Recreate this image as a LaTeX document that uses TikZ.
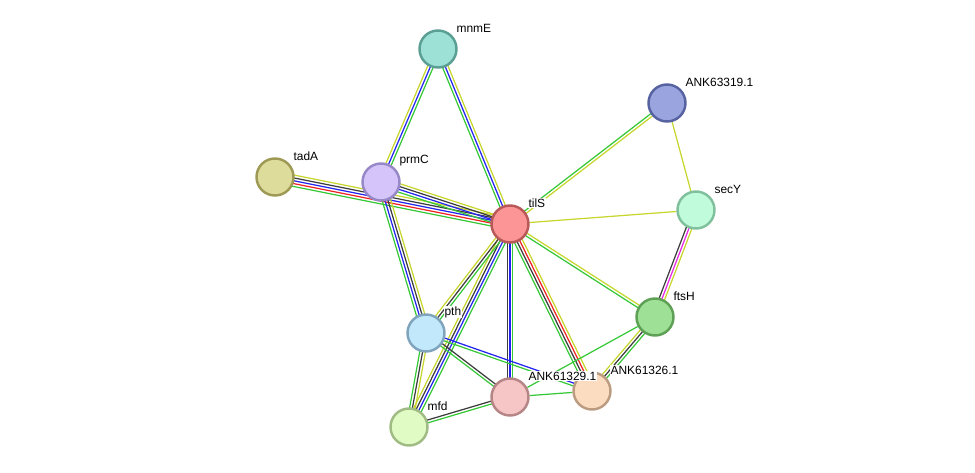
\documentclass[tikz,border=0pt]{standalone}
\usepackage{fontspec}
\setmainfont{Liberation Sans}
\usetikzlibrary{calc}
\definecolor{lnkgreen}{RGB}{55,200,55}
\definecolor{lnkyellow}{RGB}{198,214,45}
\definecolor{lnkblue}{RGB}{35,35,240}
\definecolor{lnkred}{RGB}{240,35,35}
\definecolor{lnkblack}{RGB}{60,60,60}
\definecolor{lnkmagenta}{RGB}{230,40,230}

\pgfdeclarelayer{edges}
\pgfsetlayers{edges,main}

% #1, #2 nodes, #3 number of strands, #4 strand colours
\newcommand{\strlink}[4]{%
  \foreach \col [count=\k] in {#4} {
    \pgfmathsetmacro{\off}{((#3+1)/2-\k)*1.6}
    \draw[lnk, \col] ($(#1)!\off pt!90:(#2)$) -- ($(#2)!\off pt!-90:(#1)$);
  }}

\begin{document}
\begin{tikzpicture}[x=0.02cm, y=-0.02cm,
  prot/.style={circle, line width=1.4pt, minimum size=0.74cm, inner sep=0pt},
  lbl/.style={anchor=west, xshift=0.35cm, yshift=0.42cm, inner sep=0.4pt, fill=white, font=\fontsize{6.8}{8}\selectfont},
  lnk/.style={line width=0.7pt}]
\useasboundingbox (0,0) rectangle (975,473);

\node[prot, draw={rgb,255:red,90;green,158;blue,148}, fill={rgb,255:red,156;green,224;blue,214}] (mnmE) at (438,49) {};
\node[prot, draw={rgb,255:red,87;green,99;blue,160}, fill={rgb,255:red,154;green,165;blue,224}] (ank319) at (667,103) {};
\node[prot, draw={rgb,255:red,158;green,154;blue,85}, fill={rgb,255:red,222;green,220;blue,154}] (tadA) at (275,177) {};
\node[prot, draw={rgb,255:red,151;green,136;blue,200}, fill={rgb,255:red,212;green,196;blue,250}] (prmC) at (381,182) {};
\node[prot, draw={rgb,255:red,184;green,88;blue,88}, fill={rgb,255:red,252;green,150;blue,150}] (tilS) at (510,224) {};
\node[prot, draw={rgb,255:red,128;green,192;blue,156}, fill={rgb,255:red,192;green,252;blue,220}] (secY) at (696,210) {};
\node[prot, draw={rgb,255:red,94;green,160;blue,86}, fill={rgb,255:red,158;green,224;blue,150}] (ftsH) at (655,317) {};
\node[prot, draw={rgb,255:red,128;green,164;blue,188}, fill={rgb,255:red,194;green,232;blue,252}] (pth) at (426,333) {};
\node[prot, draw={rgb,255:red,188;green,156;blue,128}, fill={rgb,255:red,252;green,220;blue,192}] (ank326) at (592,391) {};
\node[prot, draw={rgb,255:red,182;green,134;blue,134}, fill={rgb,255:red,246;green,198;blue,198}] (ank329) at (510,397) {};
\node[prot, draw={rgb,255:red,160;green,188;blue,132}, fill={rgb,255:red,224;green,252;blue,196}] (mfd) at (409,427) {};

% names
\node[lbl] (mnmEl) at (mnmE) {mnmE};
\node[lbl] (ank319l) at (ank319) {ANK63319.1};
\node[lbl] (tadAl) at (tadA) {tadA};
\node[lbl] (prmCl) at (prmC) {prmC};
\node[lbl] (tilSl) at (tilS) {tilS};
\node[lbl] (secYl) at (secY) {secY};
\node[lbl] (ftsHl) at (ftsH) {ftsH};
\node[lbl] (pthl) at (pth) {pth};
\node[lbl] (ank326l) at (ank326) {ANK61326.1};
\node[lbl] (ank329l) at (ank329) {ANK61329.1};
\node[lbl] (mfdl) at (mfd) {mfd};

\begin{pgfonlayer}{edges}
\strlink{tadA}{tilS}{5}{lnkyellow,lnkblack,lnkblue,lnkred,lnkgreen}
\strlink{prmC}{tilS}{4}{lnkyellow,lnkblack,lnkblue,lnkgreen}
\strlink{mnmE}{prmC}{3}{lnkgreen,lnkblue,lnkyellow}
\strlink{mnmE}{tilS}{3}{lnkyellow,lnkblue,lnkgreen}
\strlink{prmC}{pth}{4}{lnkyellow,lnkblack,lnkblue,lnkgreen}
\strlink{pth}{mfd}{3}{lnkyellow,lnkblack,lnkgreen}
\strlink{tilS}{mfd}{4}{lnkgreen,lnkblue,lnkblack,lnkyellow}
\strlink{tilS}{pth}{3}{lnkgreen,lnkblack,lnkyellow}
\strlink{tilS}{ank329}{3}{lnkgreen,lnkblue,lnkblack}
\strlink{tilS}{ank326}{4}{lnkyellow,lnkred,lnkblack,lnkgreen}
\strlink{tilS}{ftsH}{2}{lnkyellow,lnkgreen}
\strlink{ank319}{tilS}{2}{lnkyellow,lnkgreen}
\strlink{secY}{ftsH}{3}{lnkyellow,lnkmagenta,lnkblack}
\strlink{ftsH}{ank326}{3}{lnkgreen,lnkblack,lnkyellow}
\strlink{pth}{ank326}{2}{lnkblue,lnkgreen}
\strlink{pth}{ank329}{2}{lnkblack,lnkgreen}
\strlink{mfd}{ank329}{2}{lnkblack,lnkgreen}
\draw[lnk, lnkgreen] (ank329) -- (ank326);
\draw[lnk, lnkgreen] (ftsH) -- (ank329);
\draw[lnk, lnkyellow] (tilS) -- (secY);
\draw[lnk, lnkyellow] (ank319) -- (secY);
\end{pgfonlayer}
\end{tikzpicture}
\end{document}
